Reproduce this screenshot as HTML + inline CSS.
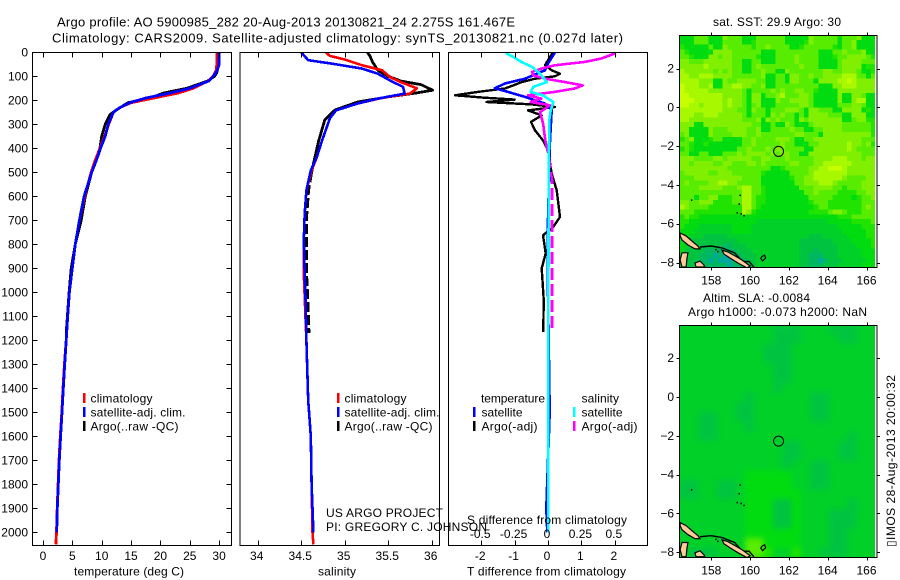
<!DOCTYPE html>
<html>
<head>
<meta charset="utf-8">
<title>Argo profile</title>
<style>
html,body{margin:0;padding:0;background:#fff;}
svg{display:block;}
text{font-family:"Liberation Sans",sans-serif;font-size:12px;fill:#000;}
.big{font-size:13px;}
</style>
</head>
<body>
<svg id="chart" xmlns="http://www.w3.org/2000/svg" width="900" height="580" viewBox="0 0 900 580">
<rect x="0" y="0" width="900" height="580" fill="#fff"/>
<defs>
<clipPath id="clip-t"><rect x="32" y="52" width="199" height="493"/></clipPath>
<clipPath id="clip-s"><rect x="240" y="52" width="199" height="493"/></clipPath>
<clipPath id="clip-d"><rect x="448" y="52" width="199" height="493"/></clipPath>
<clipPath id="clip-m1"><rect x="679.3" y="35" width="195.7" height="232"/></clipPath>
<clipPath id="clip-m2"><rect x="679.3" y="325" width="195.7" height="232"/></clipPath>
<filter id="smooth" x="-5%" y="-5%" width="110%" height="110%" color-interpolation-filters="sRGB"><feGaussianBlur stdDeviation="3"/></filter>
</defs>
<text class="big" x="57" y="26.5" textLength="458" lengthAdjust="spacing">Argo profile: AO 5900985_282 20-Aug-2013 20130821_24 2.275S 161.467E</text>
<text class="big" x="52" y="42.5" textLength="571" lengthAdjust="spacing">Climatology: CARS2009. Satellite-adjusted climatology: synTS_20130821.nc (0.027d later)</text>

<g id="marks"></g>

<g>
<rect x="83" y="393" width="2.5" height="10" fill="#f00"/>
<rect x="83" y="407" width="2.5" height="10" fill="#00f"/>
<rect x="83" y="421" width="2.5" height="10" fill="#000"/>
<text x="90.5" y="402.5" textLength="62">climatology</text>
<text x="90.5" y="416.5" textLength="95">satellite-adj. clim.</text>
<text x="90.5" y="430.5" textLength="88">Argo(..raw -QC)</text>
</g>
<g>
<rect x="337" y="393" width="2.5" height="10" fill="#f00"/>
<rect x="337" y="407" width="2.5" height="10" fill="#00f"/>
<rect x="337" y="421" width="2.5" height="10" fill="#000"/>
<text x="344.5" y="402.5" textLength="62">climatology</text>
<text x="344.5" y="416.5" textLength="95">satellite-adj. clim.</text>
<text x="344.5" y="430.5" textLength="88">Argo(..raw -QC)</text>
</g>
<g>
<text x="481" y="402.5" textLength="64">temperature</text>
<text x="581.5" y="402.5" textLength="37.5">salinity</text>
<rect x="473" y="407" width="2.5" height="10" fill="#00f"/>
<rect x="473" y="421" width="2.5" height="10" fill="#000"/>
<rect x="573" y="407" width="2.5" height="10" fill="#0ff"/>
<rect x="573" y="421" width="2.5" height="10" fill="#f0f"/>
<text x="481.5" y="416.5" textLength="41">satellite</text>
<text x="481.5" y="430.5" textLength="56">Argo(-adj)</text>
<text x="581.5" y="416.5" textLength="41">satellite</text>
<text x="581.5" y="430.5" textLength="56">Argo(-adj)</text>
</g>
<text x="326" y="517" textLength="117">US ARGO PROJECT</text>
<text x="326" y="531" textLength="161">PI: GREGORY C. JOHNSON</text>
<text x="467" y="524" textLength="160">S difference from climatology</text>
<text x="74" y="575.5" textLength="110">temperature (deg C)</text>
<text x="318" y="575.5" textLength="38">salinity</text>
<text x="467" y="575.5" textLength="159">T difference from climatology</text>
<text x="713" y="26" textLength="128">sat. SST: 29.9 Argo: 30</text>
<text x="703" y="302" textLength="107">Altim. SLA: -0.0084</text>
<text x="688" y="316" textLength="179">Argo h1000: -0.073 h2000: NaN</text>
<text transform="translate(895 547) rotate(-90)" textLength="172">▯IMOS 28-Aug-2013 20:00:32</text>
</svg>
<script>
/* ---------- profile data ---------- */
const depthTicks = [0,100,200,300,400,500,600,700,800,900,1000,1100,1200,1300,1400,1500,1600,1700,1800,1900,2000];
const tempTicks = [0,5,10,15,20,25,30];
const salTicks = [34,34.5,35,35.5,36];
const salTickLabels = ['34','34.5','35','35.5','36'];
const diffTicks = [-2,-1,0,1,2];
const diffSalLabels = ['-0.5','-0.25','0','0.25','0.5'];

const tClimDepth = [0,50,75,100,120,150,170,190,210,230,250,300,350,400,450,500,600,700,800,900,1000,1100,1200,1300,1400,1500,1600,1700,1800,1900,2000,2050];
const tClim = [29.6,29.6,29.5,29,28.1,25.6,23,19,15,13.1,12,11.2,10.5,9.7,8.9,8.2,7.1,6.2,5.5,5,4.5,4.2,3.95,3.65,3.4,3.2,2.95,2.72,2.58,2.42,2.3,2.2];
const tSatDepth = [0,50,75,100,120,150,170,190,210,230,250,300,350,400,450,500,600,700,800,900,1000,1100,1200,1300,1400,1500,1600,1700,1800,1900,2000];
const tSat = [30,30,29.7,29,28.2,25,21.6,17.6,14.8,13.1,12,11.1,10.6,9.8,9.1,8.3,7,6.2,5.5,5,4.5,4.2,3.95,3.7,3.46,3.24,3,2.78,2.6,2.44,2.33];
const tArgoDepth = [0,50,85,100,120,150,170,186,210,240,260,300,350,400,450,500,600,700,800,900,1000,1100,1170];
const tArgo = [29.8,29.8,29.6,29.2,28,24.5,20.5,18.8,14.5,12.5,11.4,10.6,10,9.7,9.1,8.3,7.2,6.5,5.5,4.8,4.45,4.15,3.95];

const sClimDepth = [0,15,30,54,75,103,125,150,172,190,214,242,275,367,436,492,575,672,783,922,1020,1200,1450,1600,1800,2000,2050];
const sClim = [34.78,34.83,35,35.2,35.43,35.52,35.65,35.83,35.75,35.43,35.14,34.9,34.83,34.74,34.68,34.62,34.56,34.54,34.53,34.53,34.54,34.56,34.58,34.61,34.62,34.63,34.64];
const sSatDepth = [0,33,47,68,89,117,144,172,193,214,242,275,367,436,492,575,672,783,922,1020,1200,1450,1600,1800,2000];
const sSat = [34.5,34.58,34.85,35.2,35.38,35.52,35.67,35.69,35.38,35.14,34.9,34.83,34.74,34.68,34.61,34.56,34.54,34.53,34.54,34.55,34.56,34.58,34.61,34.62,34.64];
const sArgoDepth = [0,15,40,75,100,120,135,158,170,186,207,240,283,370,450,500,575,700,800,900,1020,1170];
const sArgo = [35.26,35.29,35.32,35.38,35.5,35.65,35.88,36.01,35.81,35.5,35.15,34.89,34.77,34.7,34.65,34.62,34.585,34.56,34.56,34.56,34.575,34.59];

const dtSatDepth = [0,47,75,110,130,150,165,186,214,240,367,700,1000,1500,1900,2000];
const dtSat = [0.21,0,-0.09,-0.69,-1.29,-1.59,-1.2,-0.69,-0.09,0.11,0.06,0,0,0.05,-0.05,-0.02];
const dtArgoDepth = [0,33,54,75,89,100,110,124,138,151,165,179,189,197,207,217,228,242,263,290,325,367,408,506,575,686,728,762,838,900,1030,1165];
const dtArgo = [0.15,0,-0.09,0.11,0.36,0.21,-0.39,-0.79,-1.04,-1.29,-2.1,-2.78,-1.9,-1,-1.84,-0.49,0.21,-0.6,-0.19,-0.51,-0.39,-0.15,0,0.11,0.26,0.36,0.16,-0.15,-0.07,-0.19,-0.13,-0.14];
const dsSatDepth = [0,5,19,40,61,89,124,144,165,179,207,242,283,500,1000,2000];
const dsSat = [-0.31,-0.31,-0.26,-0.2,-0.12,-0.06,-0.01,-0.11,-0.13,-0.04,0.04,0.02,0.01,0.005,0.003,0.003];
const dsArgoDepth = [0,5,26,40,54,68,82,96,110,124,138,151,165,179,193,207,221,249,297,367,436,533,644,1165];
const dsArgo = [0.5,0.5,0.4,0.277,0.05,-0.05,-0.12,-0.11,-0.02,0.127,0.26,0.2,0.05,-0.15,-0.05,-0.13,0.015,-0.06,-0.037,-0.02,0.007,0.03,0.03,0.03];

/* ---------- map data (colour level per grid cell, north to south) ---------- */
const sstRows = [
"4446664447 6664446666 6644444766 6664666744 4",
"4446664446 6664456666 6644445766 6664667444 4",
"5444446447 6666656676 6664456666 6654667444 4",
"6544444777 7666666444 6666666664 4466766674 4",
"6654447767 7666665444 6666766664 4456677776 5",
"7766677777 7664466444 6666766664 4446777766 6",
"7777787777 7664467666 6666676664 4446777745 5",
"8777777676 7664466766 4476666666 7766777644 5",
"8877888777 7666666744 6647766766 7777888664 6",
"8888777447 6677776644 6647766647 7778898777 7",
"9888778447 7887766744 6666666664 4477888777 7",
"9888887777 7776466667 6766776654 4447777777 7",
"9988888887 7776477466 7866677644 4447447764 4",
"9998888887 8776477444 7667777644 4447447884 4",
"9988788887 8776467444 6666677644 4446667764 4",
"8888888887 7766476646 6677764776 6644777745 4",
"8887788877 7776466647 6766464777 7666447774 4",
"8877777777 7776667476 7666476777 7777446775 5",
"7774477777 7777766446 4476444677 7777666666 5",
"7744447666 7777667446 6667664466 7777666666 5",
"6744447666 6777667666 6666776664 7777777777 5",
"5674445664 4446676666 7776446677 7777777766 6",
"6654454444 4446676666 6766444667 7777787767 5",
"5654444444 4466766676 7766664477 7777787666 6",
"6644664446 6676777767 6776644777 7777777766 6",
"7776666776 7777766776 6676666677 7788877767 7",
"7767777667 7666776766 6667766677 8888887777 7",
"7777777777 6666666664 4566666778 8999877777 7",
"6777776677 7666666544 4446666788 8888877777 7",
"6667777777 7776666444 4445667788 8888766667 7",
"6766667788 7766666444 4444667778 8876666677 7",
"6666777776 6678866544 4444466677 7766566677 7",
"6666666666 6668866544 4444446676 6665555667 7",
"6664667755 5668865544 4444444666 6655554566 7",
"7766777555 5668865544 4444444566 6555555566 6",
"8766665555 5558865444 4444444456 6555555567 6",
"6665555555 5558754444 4444444555 5677655566 6",
"5655444444 4444444444 4444444444 4445556666 6",
"5544444444 4444443333 3333333333 3444445555 6",
"5444333333 3444433333 3333333333 3334444455 5",
"4443333333 3444433333 3333333333 3333444445 5",
"4433322222 3333333333 3333333222 3333344445 5",
"4322222222 2233333333 3333322222 2233334444 5",
"4322222221 1222333333 3333322222 2223333444 5",
"4222211111 1122233333 3333322212 2223333344 4",
"3322111010 0112223333 3333322111 2223333344 4",
"3222110100 0111223333 3333322110 1222333334 4",
"2222111111 0112223333 3333322111 2223333344 4"
];
const slaRows = [
"333333333322233322233",
"333333333322233332233",
"333333333222333333333",
"333333333222333333333",
"333333333322333333333",
"333333333322333333333",
"333333333323333333333",
"333333323333332233333",
"333333223333332233333",
"332233223333332233333",
"332233323333333333333",
"332233333333333333233",
"333333333332233332233",
"333333333332233332233",
"333333333332332233333",
"333333344444332233333",
"223322344444332233333",
"223322344444433333333",
"333333344422433333233",
"333333344422433322233",
"333333344422433322233",
"333333344444433322333",
"333333366444433322333",
"322233366533533222333"
];
const levelColors = ['#00a8a0','#00b860','#00c440','#00d028','#00dc10','#20e400','#58ec00','#80f000','#a8f800','#c8ff00'];
const lonTicks = [158,160,162,164,166];
const latTicks = [2,0,-2,-4,-6,-8];
const floatLon = [161.467];
const floatLat = [-2.275];
const islandLons = [
 [156.39,156.70,157.00,157.31,157.42,157.16,156.80,156.49,156.39],
 [158.55,158.86,159.22,159.58,160.00,159.84,159.38,158.96,158.65],
 [156.49,156.80,156.75,156.70,156.49,156.39],
 [157.16,157.42,157.62,157.67,157.21],
 [160.60,160.75,160.80,160.65,160.55]
];
const islandLats = [
 [-6.48,-6.63,-6.89,-7.15,-7.30,-7.30,-7.10,-6.84,-6.63],
 [-7.36,-7.46,-7.66,-7.87,-8.18,-8.28,-8.03,-7.77,-7.56],
 [-7.50,-7.50,-7.77,-8.23,-8.23,-7.87],
 [-8.03,-7.93,-8.13,-8.23,-8.23],
 [-7.70,-7.62,-7.77,-7.92,-7.80]
];
const reefLon = [157.42,158.00,158.55,159.20,159.60,159.95,160.20];
const reefLat = [-7.20,-7.15,-7.25,-7.50,-7.95,-7.95,-8.25];
const islandDotLon = [156.95,159.45,159.40,159.30,159.50,159.65,158.20,158.30];
const islandDotLat = [-4.75,-4.50,-4.95,-5.40,-5.45,-5.55,-7.30,-7.40];

/* ---------- axis functions ---------- */
const NS = 'http://www.w3.org/2000/svg';
const marksRoot = document.getElementById('marks');
const depthY = d => 52.3 + 0.24 * d;
const tempX = t => 43 + 5.87 * t;
const salX = s => 257.7 + 87 * (s - 34);
const diffTX = v => 548 + 33.4 * v;
const diffSX = v => 548 + 133.6 * v;
const lonX = lon => 711.3 + 19.4 * (lon - 158);
const latY1 = lat => 107.3 - 19.4 * lat;
const latY2 = lat => 397 - 19.4 * lat;

function make(tag, parent, attrs) {
  const el = document.createElementNS(NS, tag);
  for (const k in attrs) el.setAttribute(k, attrs[k]);
  parent.appendChild(el);
  return el;
}
function named(el, name) {
  
  
  return el;
}
function series(parent, name, xs, ys, xf, color, w, dashFrom, dashPattern) {
  const pts = ys.map((d, i) => [xf(xs[i]), depthY(d), d]);
  const solid = dashFrom == null ? pts : pts.filter(p => p[2] <= dashFrom);
  const a = make('polyline', parent, {points: solid.map(p => p[0].toFixed(1) + ',' + p[1].toFixed(1)).join(' '), fill: 'none', stroke: color, 'stroke-width': w, 'stroke-linejoin': 'round', 'shape-rendering': 'crispEdges'});
  named(a, name);
  if (dashFrom != null) {
    const rest = pts.filter(p => p[2] >= dashFrom);
    const b = make('polyline', parent, {points: rest.map(p => p[0].toFixed(1) + ',' + p[1].toFixed(1)).join(' '), fill: 'none', stroke: color, 'stroke-width': w, 'stroke-dasharray': dashPattern, 'shape-rendering': 'crispEdges'});
    named(b, name + '-deep');
  }
}
function label(parent, name, x, y, txt, anchor) {
  const t = make('text', parent, {x: x, y: y, 'text-anchor': anchor});
  t.textContent = txt;
  named(t, name);
}
function tick(parent, name, x1, y1, x2, y2) {
  const l = make('line', parent, {x1: x1, y1: y1, x2: x2, y2: y2, stroke: '#000', 'stroke-width': 1, 'shape-rendering': 'crispEdges'});
  named(l, name);
}
function frame(parent, name, x, y, w, h) {
  const r = make('rect', parent, {x: x, y: y, width: w, height: h, fill: 'none', stroke: '#000', 'stroke-width': 1, 'shape-rendering': 'crispEdges'});
  named(r, name);
}

/* ---------- profile panels ---------- */
const plotTop = 52.5, plotBottom = 545.5;

const gT = named(make('g', marksRoot, {}), 'temperature-panel');
const cT = make('g', gT, {'clip-path': 'url(#clip-t)'});
series(cT, 'temperature-argo-line', tArgo, tArgoDepth, tempX, '#000', 2.8);
series(cT, 'temperature-climatology-line', tClim, tClimDepth, tempX, '#f00', 2.8);
series(cT, 'temperature-satellite-line', tSat, tSatDepth, tempX, '#00f', 2.8);
frame(gT, 'temperature-plot-frame', 32.5, plotTop, 199, 493);
tempTicks.forEach(v => {
  tick(gT, 'temperature-tick-top', Math.round(tempX(v)) + .5, plotTop, Math.round(tempX(v)) + .5, plotTop + 5);
  tick(gT, 'temperature-tick-bottom', Math.round(tempX(v)) + .5, plotBottom, Math.round(tempX(v)) + .5, plotBottom - 5);
  label(gT, 'temperature-tick-label', tempX(v), 560, String(v), 'middle');
});
depthTicks.forEach(d => {
  const y = Math.round(depthY(d)) + .5;
  tick(gT, 'depth-tick-left', 32.5, y, 37.5, y);
  tick(gT, 'depth-tick-right', 231.5, y, 226.5, y);
  label(gT, 'depth-tick-label', 28, depthY(d) + 4, String(d), 'end');
});

const gS = named(make('g', marksRoot, {}), 'salinity-panel');
const cS = make('g', gS, {'clip-path': 'url(#clip-s)'});
series(cS, 'salinity-argo-line', sArgo, sArgoDepth, salX, '#000', 2.8, 500, '10 3');
series(cS, 'salinity-climatology-line', sClim, sClimDepth, salX, '#f00', 2.6);
series(cS, 'salinity-satellite-line', sSat, sSatDepth, salX, '#00f', 2.6);
frame(gS, 'salinity-plot-frame', 240, plotTop, 199.5, 493);
salTicks.forEach((v, i) => {
  const x = Math.round(salX(v)) + .5;
  tick(gS, 'salinity-tick-top', x, plotTop, x, plotTop + 5);
  tick(gS, 'salinity-tick-bottom', x, plotBottom, x, plotBottom - 5);
  label(gS, 'salinity-tick-label', salX(v) - 1, 560, salTickLabels[i], 'middle');
});

const gD = named(make('g', marksRoot, {}), 'difference-panel');
const cD = make('g', gD, {'clip-path': 'url(#clip-d)'});
series(cD, 'temperature-argo-difference-line', dtArgo, dtArgoDepth, diffTX, '#000', 2.4);
series(cD, 'temperature-satellite-difference-line', dtSat, dtSatDepth, diffTX, '#00f', 2.6);
series(cD, 'salinity-argo-difference-line', dsArgo, dsArgoDepth, diffSX, '#f0f', 2.6, 367, '12 4');
series(cD, 'salinity-satellite-difference-line', dsSat, dsSatDepth, diffSX, '#0ff', 2.6);
frame(gD, 'difference-plot-frame', 448.5, plotTop, 199, 493);
diffTicks.forEach((v, i) => {
  const x = Math.round(diffTX(v)) + .5;
  tick(gD, 'difference-tick-top', x, plotTop, x, plotTop + 5);
  tick(gD, 'difference-tick-bottom', x, plotBottom, x, plotBottom - 5);
  label(gD, 't-difference-tick-label', diffTX(v) - 1, 560, String(v), 'middle');
  label(gD, 's-difference-tick-label', diffTX(v) - 1, 538, diffSalLabels[i], 'middle');
});

/* ---------- map panels ---------- */
function drawMap(name, rows, latY, clipId, topPx, bottomPx, smooth) {
  const g = named(make('g', marksRoot, {}), name);
  const c = make('g', g, {'clip-path': 'url(#' + clipId + ')'});
  const base = make('rect', c, {x: 679, y: topPx, width: 198, height: bottomPx - topPx, fill: levelColors[3]});
  named(base, 'map-base');
  const cellsGroup = make('g', c, smooth ? {filter: 'url(#smooth)'} : {});
  const lon0 = 156.37, lon1 = 166.47, lat0 = 3.73, lat1 = -8.27;
  const clean = rows.map(r => r.replace(/ /g, ''));
  const nRow = clean.length;
  clean.forEach((row, j) => {
    const nCol = row.length;
    for (let i = 0; i < nCol; i++) {
      const xa = lonX(lon0 + (lon1 - lon0) * i / nCol);
      const xb = lonX(lon0 + (lon1 - lon0) * (i + 1) / nCol);
      const ya = latY(lat0 + (lat1 - lat0) * j / nRow);
      const yb = latY(lat0 + (lat1 - lat0) * (j + 1) / nRow);
      const cell = make('rect', cellsGroup, {x: xa.toFixed(1), y: ya.toFixed(1), width: (xb - xa + .4).toFixed(1), height: (yb - ya + .4).toFixed(1), fill: levelColors[+row[i]], 'shape-rendering': 'crispEdges'});
      
      
    }
  });
  const reef = make('polyline', c, {points: reefLon.map((v, i) => lonX(v).toFixed(1) + ',' + latY(reefLat[i]).toFixed(1)).join(' '), fill: 'none', stroke: '#000', 'stroke-width': 1.4});
  named(reef, 'reef-outline');
  islandLons.forEach((lons, k) => {
    const pts = lons.map((v, i) => lonX(v).toFixed(1) + ',' + latY(islandLats[k][i]).toFixed(1)).join(' ');
    const isl = make('polygon', c, {points: pts, fill: k === 4 ? 'none' : '#ffcc99', stroke: '#000', 'stroke-width': 1.2});
    named(isl, 'island');
  });
  islandDotLon.forEach((v, i) => {
    const dot = make('rect', c, {x: lonX(v).toFixed(1), y: latY(islandDotLat[i]).toFixed(1), width: 1.5, height: 1.5, fill: '#000'});
    named(dot, 'islet');
  });
  floatLon.forEach((v, i) => {
    const mark = make('circle', c, {cx: lonX(v), cy: latY(floatLat[i]), r: 5, fill: 'none', stroke: '#000', 'stroke-width': 1});
    named(mark, 'float-position-marker');
  });
  frame(g, name + '-frame', 679.5, topPx, 197.5, bottomPx - topPx);
  lonTicks.forEach(v => {
    const x = Math.round(lonX(v)) + .5;
    tick(g, 'longitude-tick-top', x, topPx, x, topPx - 3);
    tick(g, 'longitude-tick-bottom', x, bottomPx, x, bottomPx + 3);
    label(g, 'longitude-tick-label', lonX(v), bottomPx + 17, String(v), 'middle');
  });
  latTicks.forEach(v => {
    const y = Math.round(latY(v)) + .5;
    tick(g, 'latitude-tick-left', 679.5, y, 676.5, y);
    tick(g, 'latitude-tick-right', 877, y, 880, y);
    label(g, 'latitude-tick-label', 674, latY(v) + 4, String(v).replace('-', '\u2212'), 'end');
  });
}
drawMap('sst-map', sstRows, latY1, 'clip-m1', 35.5, 267.5, false);
drawMap('sea-level-anomaly-map', slaRows, latY2, 'clip-m2', 325.5, 557.5, true);
</script>
</body>
</html>
